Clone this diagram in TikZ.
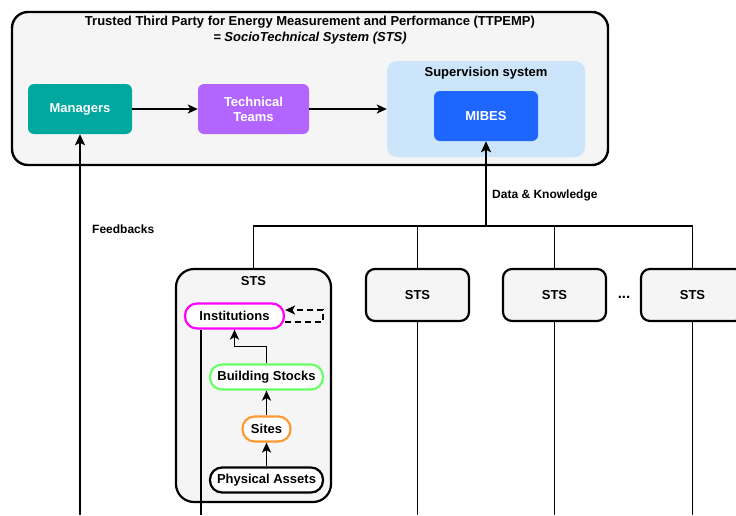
\documentclass[tikz,border=0pt]{standalone}
\usepackage{fontspec}
\setmainfont{Liberation Sans}
\usetikzlibrary{arrows.meta}
\definecolor{outerfill}{HTML}{F5F5F5}
\definecolor{teal1}{HTML}{00A8A0}
\definecolor{purple1}{HTML}{B266FF}
\definecolor{blue1}{HTML}{1F66FF}
\definecolor{supfill}{HTML}{CCE5FA}
\definecolor{mag}{HTML}{FF00FF}
\definecolor{grn}{HTML}{66FF66}
\definecolor{org}{HTML}{FF9933}
\begin{document}
\begin{tikzpicture}[x=1pt,y=-1pt,
  every node/.style={font=\bfseries\fontsize{13}{15}\selectfont, inner sep=0pt},
  colbox/.style={rounded corners=6pt, minimum width=104pt, minimum height=50pt, text=white, align=center},
  stsbox/.style={draw, line width=2.2pt, fill=outerfill, rounded corners=9pt, minimum width=103pt, minimum height=52pt},
  pill/.style={draw, line width=2.2pt, fill=white, rounded corners=12pt, minimum height=25pt},
  conn/.style={line width=1.8pt},
  tip/.style={-{Stealth[length=10pt,width=9pt,inset=2.5pt]}},
  arr/.style={line width=1.8pt, tip},
  arrthick/.style={line width=2.4pt, -{Stealth[length=11pt,width=10pt,inset=2.5pt]}},
  lbl/.style={font=\bfseries\fontsize{12}{14}\selectfont, anchor=west}
]
\useasboundingbox (0,0) rectangle (736,515);
\clip (0,0) rectangle (736,515);

% outer container
\node[draw, line width=2.4pt, fill=outerfill, rounded corners=16pt, minimum width=596pt, minimum height=153pt] (ttp) at (310,88.5) {};
\node (title) at (310,22) {Trusted Third Party for Energy Measurement and Performance (TTPEMP)};
\node[font=\bfseries\itshape\fontsize{13}{15}\selectfont] (subtitle) at (310,38) {= SocioTechnical System (STS)};

% supervision system
\node[fill=supfill, rounded corners=10pt, minimum width=198pt, minimum height=96pt] (sup) at (486,109) {};
\node (suplbl) at (486,73) {Supervision system};

\node[colbox, fill=teal1] (man) at (80,109) {Managers};
\node[colbox, fill=purple1, minimum width=111pt] (tech) at (253.5,109) {Technical\\Teams};
\node[colbox, fill=blue1] (mibes) at (486,116) {MIBES};

\draw[arr] (man.east) -- (tech.west);
\draw[arr] (tech.east) -- (sup.west);

% big STS
\node[draw, line width=2.2pt, fill=outerfill, rounded corners=18pt, minimum width=155pt, minimum height=233pt] (big) at (253.5,385.5) {};
\node (biglbl) at (253.5,281) {STS};
\node[pill, draw=mag, minimum width=99pt] (inst) at (234.5,316) {Institutions};
\node[pill, draw=grn, minimum width=113pt] (bs) at (266.5,377) {Building Stocks};
\node[pill, draw=org, minimum width=48pt] (sites) at (266.5,429) {Sites};
\node[pill, draw=black, minimum width=113pt] (pa) at (266.5,480) {Physical Assets};

\draw[arr] (pa.north) -- (sites.south);
\draw[arr] (sites.north) -- (bs.south);
\draw[arr] (bs.north) -- ++(0,-17) -| (inst.south);
\draw[line width=1.8pt, dash pattern=on 6pt off 4pt, tip] ([yshift=-6pt]inst.east) -- ++(38,0) |- ([yshift=6pt]inst.east);

% other STS
\node[stsbox] (s2) at (417.5,295) {STS};
\node[stsbox] (s3) at (554.5,295) {STS};
\node[stsbox] (s4) at (692.5,295) {STS};
\node[font=\bfseries\fontsize{15}{15}\selectfont] (dots) at (624,297) {...};

% bus
\coordinate (busmid) at (486,226);
\draw[conn] (big.north) -- (big.north |- busmid) -- (s4.north |- busmid) -- (s4.north);
\draw[conn] (s2.north) -- (s2.north |- busmid);
\draw[conn] (s3.north) -- (s3.north |- busmid);
\draw[arrthick] (busmid) -- (mibes.south);
\node[lbl] (dk) at (492,195) {Data \& Knowledge};

% feedback
\coordinate (fbbot) at (80,515);
\draw[arrthick] (fbbot) -- (man.south);
\node[lbl] (fb) at (92,229) {Feedbacks};

% down lines
\coordinate (instbot) at (201,515);
\draw[conn] (instbot) -- (instbot |- inst.south);
\foreach \s in {s2,s3,s4} { \draw[conn] (\s.south) -- (\s.south |- fbbot); }
\end{tikzpicture}
\end{document}
